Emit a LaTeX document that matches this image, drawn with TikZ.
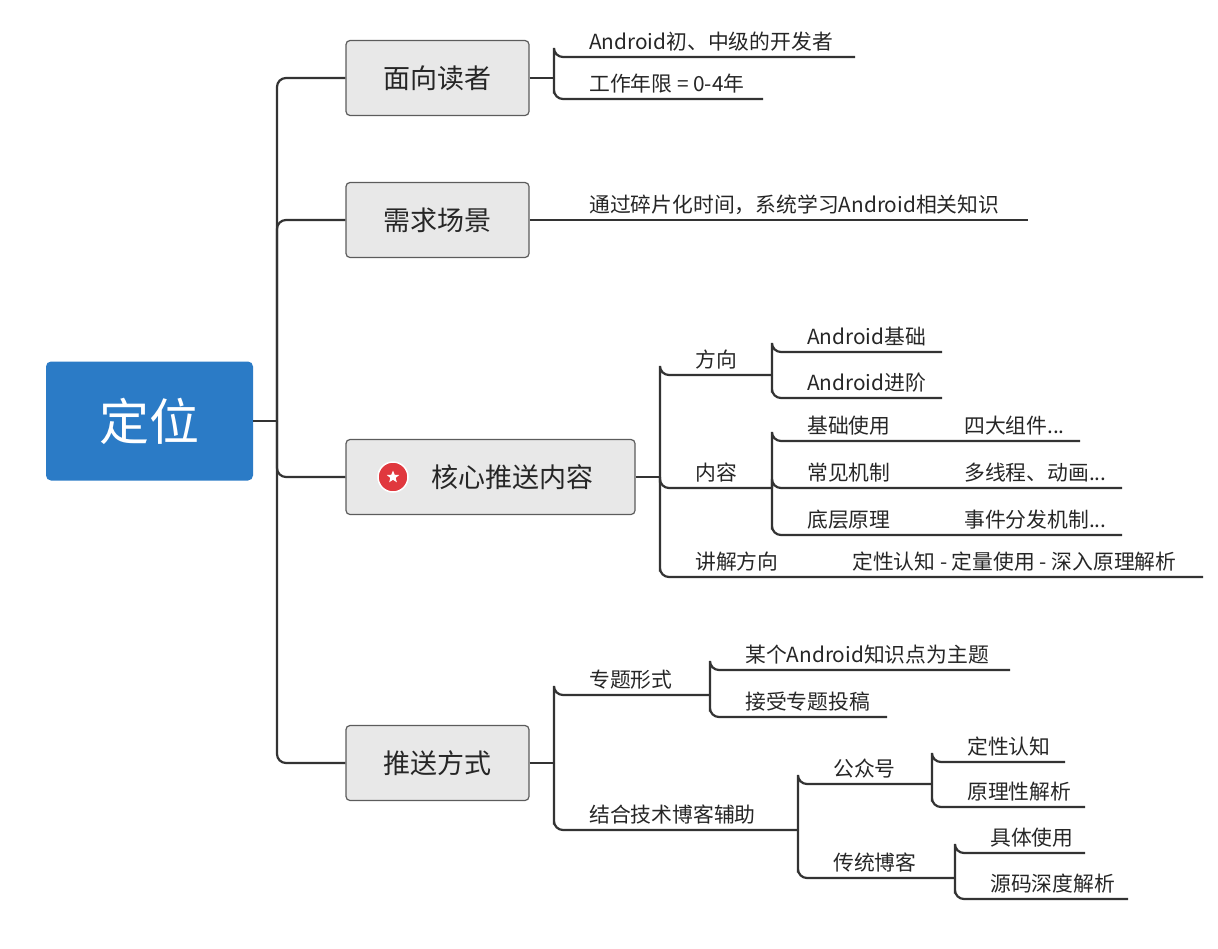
\documentclass[tikz,border=0pt]{standalone}
\usepackage{fontspec}
\setmainfont{Noto Sans CJK SC}
\usetikzlibrary{shapes.geometric}
\definecolor{rootblue}{HTML}{2B7BC6}
\definecolor{boxgray}{HTML}{E8E8E8}
\definecolor{linegray}{HTML}{333333}
\definecolor{starred}{HTML}{E0383E}

\tikzset{
    link/.style={line width=2.2pt, linegray, rounded corners=9pt},
    topic/.style={draw=linegray!80, line width=1.2pt, fill=boxgray, rounded corners=4pt,
        minimum height=75pt, font=\fontsize{27}{31}\selectfont, text=black!85},
    sub/.style={anchor=base west, inner sep=0pt, font=\fontsize{20.8}{24}\selectfont, text=black!85}
}
% leaf: name, underline start x, underline y, underline end x, text x, text
\newcommand{\leaf}[6]{%
    \coordinate (#1-s) at (#2,#3);
    \coordinate (#1-e) at (#4,#3);
    \node[sub] (#1) at (#5,#3-8) {#6};
}

\begin{document}
\begin{tikzpicture}[x=1pt,y=-1pt]
    \useasboundingbox (0,0) rectangle (1218,948);

    % root
    \node[fill=rootblue, rounded corners=5pt, minimum width=207pt, minimum height=119pt,
        text=white, font=\fontsize{50}{56}\selectfont] (root) at (149.5,421) {定位};
    \coordinate (trunk) at (277,421);

    % main topics
    \node[topic, minimum width=183pt] (reader) at (437.5,78) {面向读者};
    \node[topic, minimum width=183pt] (scene) at (437.5,220) {需求场景};
    \node[topic, minimum width=289pt] (core) at (490.5,477) {};
    \node[font=\fontsize{27}{31}\selectfont, text=black!85, inner sep=0pt] (coretext) at (512,477) {核心推送内容};
    \node[topic, minimum width=183pt] (push) at (437.5,763) {推送方式};
    \node[circle, fill=starred, draw=white, line width=1.5pt, minimum size=30pt] (icon) at (393,477) {};
    \node[star, star points=5, star point ratio=2.3, fill=white, minimum size=13pt, inner sep=0pt] (staricon) at (icon) {};

    \draw[link] (root.east) -- (trunk);
    \foreach \t in {reader, scene, core, push}
        \draw[link] (trunk) |- (\t.west);

    % 面向读者
    \coordinate (reader-hub) at (554,78);
    \draw[link] (reader.east) -- (reader-hub);
    \leaf{r1}{554}{57}{855}{589}{Android初、中级的开发者}
    \leaf{r2}{554}{99}{763}{589}{工作年限 = 0-4年}
    \foreach \c in {r1, r2}
        \draw[link] (reader-hub) |- (\c-s) -- (\c-e);

    % 需求场景
    \leaf{s1}{554}{220}{1028}{589}{通过碎片化时间，系统学习Android相关知识}
    \draw[link] (scene.east) -- (s1-e);

    % 核心推送内容
    \coordinate (core-hub) at (660,477);
    \draw[link] (core.east) -- (core-hub);
    \leaf{c1}{660}{375}{772}{695}{方向}
    \leaf{c2}{660}{488}{772}{695}{内容}
    \leaf{c3}{660}{577}{1203}{695}{讲解方向}
    \node[sub] (c3b) at (852,569) {定性认知 - 定量使用 - 深入原理解析};
    \foreach \c in {c1, c2, c3}
        \draw[link] (core-hub) |- (\c-s) -- (\c-e);

    \leaf{d1}{772}{352}{942}{807}{Android基础}
    \leaf{d2}{772}{398}{942}{807}{Android进阶}
    \foreach \c in {d1, d2}
        \draw[link] (c1-e) |- (\c-s) -- (\c-e);

    \leaf{n1}{772}{441}{1080}{807}{基础使用}
    \leaf{n2}{772}{488}{1122}{807}{常见机制}
    \leaf{n3}{772}{535}{1122}{807}{底层原理}
    \node[sub] (n1b) at (964,433) {四大组件...};
    \node[sub] (n2b) at (964,480) {多线程、动画...};
    \node[sub] (n3b) at (964,527) {事件分发机制...};
    \foreach \c in {n1, n2, n3}
        \draw[link] (c2-e) |- (\c-s) -- (\c-e);

    % 推送方式
    \coordinate (push-hub) at (554,763);
    \draw[link] (push.east) -- (push-hub);
    \leaf{p1}{554}{695}{710}{589}{专题形式}
    \leaf{p2}{554}{830}{798}{589}{结合技术博客辅助}
    \foreach \c in {p1, p2}
        \draw[link] (push-hub) |- (\c-s) -- (\c-e);

    \leaf{t1}{710}{670}{1010}{745}{某个Android知识点为主题}
    \leaf{t2}{710}{717}{887}{745}{接受专题投稿}
    \foreach \c in {t1, t2}
        \draw[link] (p1-e) |- (\c-s) -- (\c-e);

    \leaf{b1}{798}{784}{932}{833}{公众号}
    \leaf{b2}{798}{878}{955}{833}{传统博客}
    \foreach \c in {b1, b2}
        \draw[link] (p2-e) |- (\c-s) -- (\c-e);

    \leaf{g1}{932}{762}{1065}{967}{定性认知}
    \leaf{g2}{932}{807}{1085}{967}{原理性解析}
    \foreach \c in {g1, g2}
        \draw[link] (b1-e) |- (\c-s) -- (\c-e);

    \leaf{h1}{955}{853}{1085}{990}{具体使用}
    \leaf{h2}{955}{899}{1128}{990}{源码深度解析}
    \foreach \c in {h1, h2}
        \draw[link] (b2-e) |- (\c-s) -- (\c-e);
\end{tikzpicture}
\end{document}
